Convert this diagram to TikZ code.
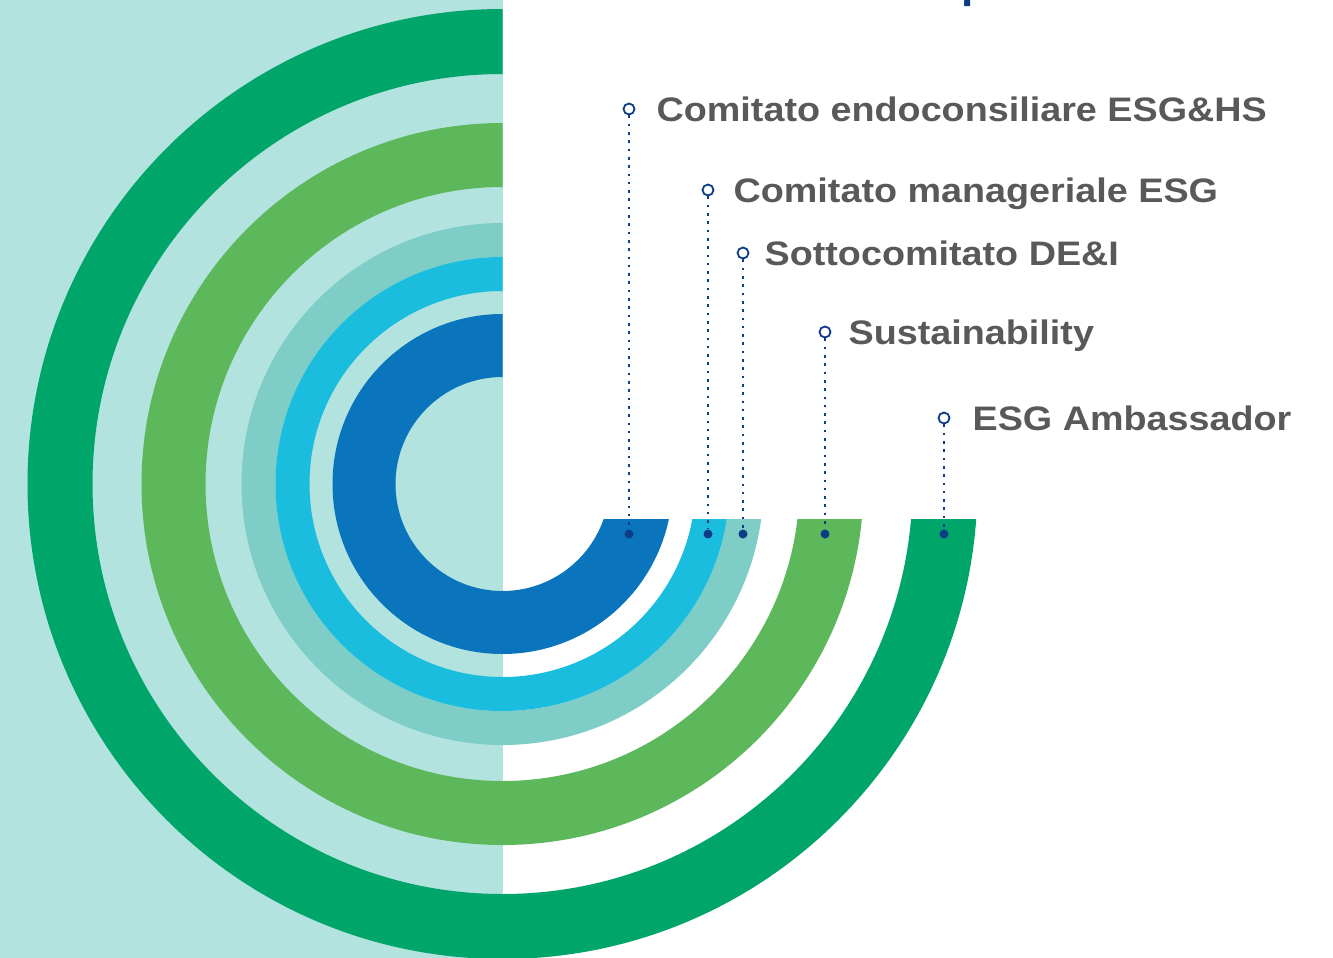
\documentclass[tikz,border=0pt]{standalone}
\usepackage{fontspec}
\setmainfont{Liberation Sans}
\newfontfamily\tagfont{Liberation Sans}[FakeStretch=1.11]
\usetikzlibrary{positioning}

\definecolor{bgteal}{HTML}{B2E3DF}
\definecolor{ringgreen}{HTML}{00A56A}
\definecolor{ringlime}{HTML}{5CB85A}
\definecolor{ringteal}{HTML}{7ECDC7}
\definecolor{ringcyan}{HTML}{1ABDDE}
\definecolor{ringblue}{HTML}{0A75BC}
\definecolor{navy}{HTML}{0D3C87}
\definecolor{textgray}{HTML}{58595B}

\begin{document}
\begin{tikzpicture}[x=1pt, y=-1pt,
  marker/.style={circle, draw=navy, fill=white, line width=1.8pt, inner sep=0pt, minimum size=11pt},
  dot/.style={circle, fill=navy, inner sep=0pt, minimum size=9pt},
  leader/.style={navy, line width=2.6pt, dash pattern=on 2.6pt off 5.7pt},
  tag/.style={anchor=west, inner sep=0pt, text=textgray, text height=25pt, text depth=0pt,
    font=\tagfont\fontsize{34}{34}\selectfont\bfseries}]

\useasboundingbox (0,0) rectangle (1333,958);
\fill[bgteal] (0,0) rectangle (502.5,958);

% rings, left half whole, right half below the cut
\begin{scope}
  \clip (0,0) rectangle (502.5,958) (502.5,519) rectangle (1333,958);
  \foreach \ro/\ri/\col in {475/410/ringgreen, 361/297/ringlime, 261/227/ringteal,
                            227/193/ringcyan, 170/107/ringblue}
    \fill[\col, even odd rule] (502.5,484) circle (\ro) circle (\ri);
\end{scope}

% cut-off title
\node [anchor=south west, inner sep=0pt, text=navy, font=\fontsize{44}{44}\selectfont\bfseries]
  (title) at (961,7) {p};

\foreach \x/\y/\g/\txt [count=\i] in {
    629/109/21/Comitato endoconsiliare ESG\&HS,
    708/190/19/Comitato manageriale ESG,
    743/253/15/Sottocomitato DE\&I,
    825/332/17/Sustainability,
    944/418/22/ESG Ambassador}
{
  \node [marker] (m\i) at (\x,\y) {};
  \node [dot] (d\i) at (\x,534) {};
  \draw [leader] (m\i) -- (d\i);
  \node [tag, right=\g pt of m\i] (t\i) {\txt};
}
\end{tikzpicture}
\end{document}
